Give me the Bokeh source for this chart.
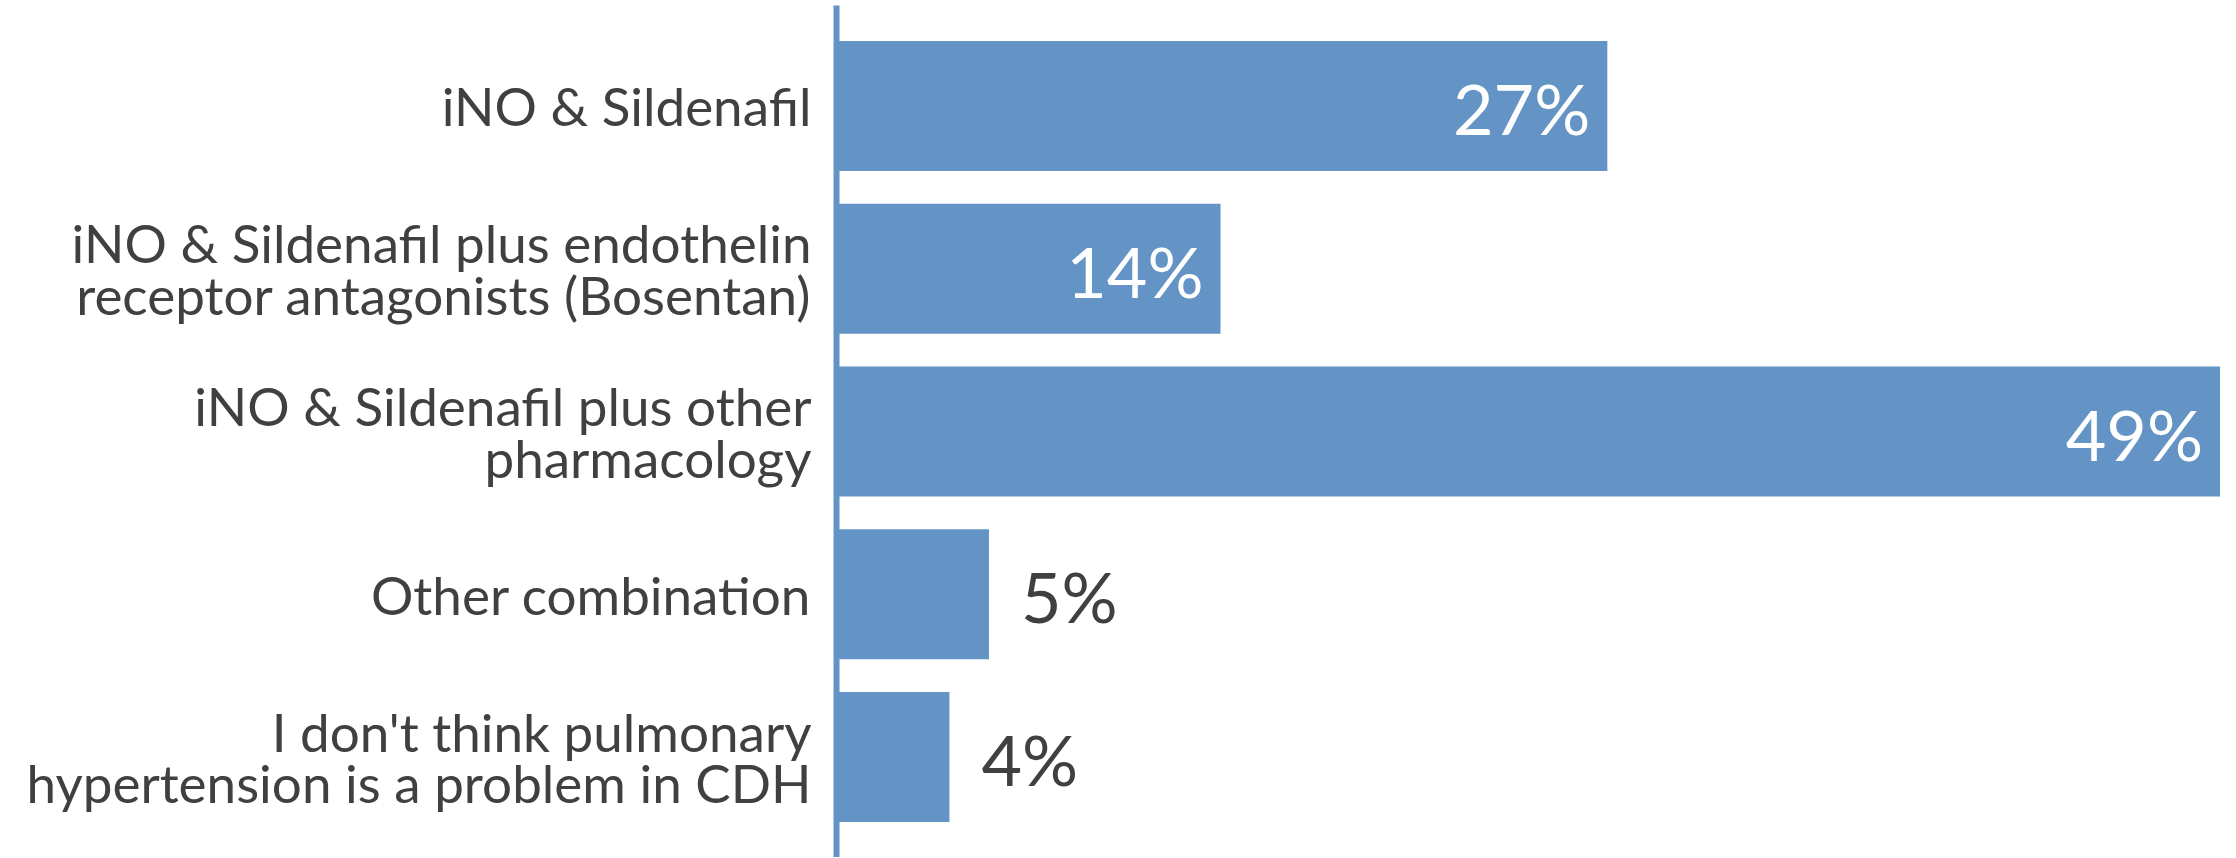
from bokeh.plotting import figure
from bokeh.models import FactorRange, Range1d, ColumnDataSource
from bokeh.core.properties import value
from bokeh.embed import file_html
from bokeh.resources import INLINE

categories = [
    "iNO & Sildenafil",
    "iNO & Sildenafil plus endothelin\nreceptor antagonists (Bosentan)",
    "iNO & Sildenafil plus other\npharmacology",
    "Other combination",
    "I don't think pulmonary\nhypertension is a problem in CDH",
]
values = [27.3, 13.6, 49.0, 5.4, 4.0]
value_labels = ["27%", "14%", "49%", "5%", "4%"]

BAR = "#6394C5"
TXT = "#404040"
FONT = "Lato"

p = figure(
    width=2228, height=857,
    y_range=FactorRange(*list(reversed(categories)), range_padding=0.1175,
                        range_padding_units="absolute"),
    x_range=Range1d(0, 49.3),
    output_backend="svg", toolbar_location=None,
    min_border_left=836, min_border_right=0, min_border_top=5, min_border_bottom=0,
)
p.hbar(y=categories, left=0, right=values, height=0.8, color=BAR, line_color=None)

inside = [v >= 10 for v in values]
src_in = ColumnDataSource(dict(
    x=[v for v, f in zip(values, inside) if f],
    y=[c for c, f in zip(categories, inside) if f],
    t=[t for t, f in zip(value_labels, inside) if f]))
src_out = ColumnDataSource(dict(
    x=[v for v, f in zip(values, inside) if not f],
    y=[c for c, f in zip(categories, inside) if not f],
    t=[t for t, f in zip(value_labels, inside) if not f]))
p.text(x="x", y="y", text="t", source=src_in, text_align="right", text_baseline="middle",
       x_offset=-17, y_offset=2, text_color="white", text_font=value(FONT), text_font_size="70px")
p.text(x="x", y="y", text="t", source=src_out, text_align="left", text_baseline="middle",
       x_offset=32, y_offset=2, text_color=TXT, text_font=value(FONT), text_font_size="70px")

p.xaxis.visible = False
p.xgrid.visible = False
p.ygrid.visible = False
p.outline_line_color = None
ya = p.yaxis[0]
ya.axis_line_color = BAR
ya.axis_line_width = 6
ya.major_tick_line_color = None
ya.minor_tick_line_color = None
ya.major_tick_out = 0
ya.major_label_standoff = 25
ya.major_label_text_font = FONT
ya.major_label_text_font_size = "53px"
ya.major_label_text_color = TXT
ya.major_label_text_line_height = 0.82

open("out.html", "w").write(file_html(p, INLINE))
